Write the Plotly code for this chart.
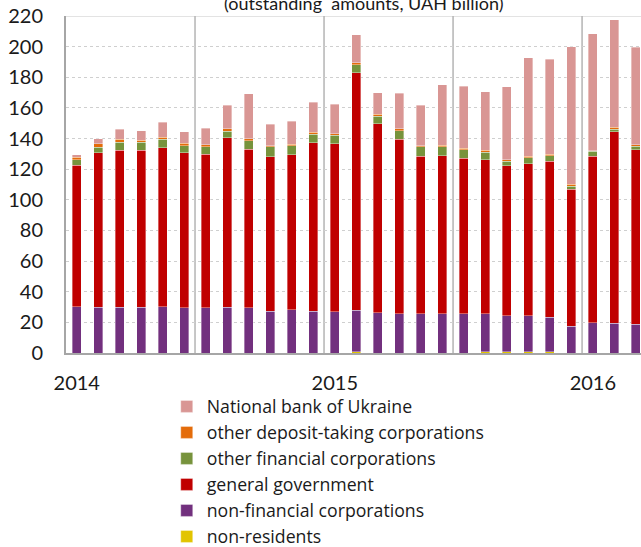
import plotly.graph_objects as go

months = [f"{y}-{m:02d}" for y in (2014, 2015, 2016) for m in range(1, 13)][:27]
tick_vals = ["2014-01", "2015-01", "2016-01"]
tick_text = ["2014", "2015", "2016"]

non_residents = [0, 0, 0, 0, 0, 0, 0, 0, 0, 0, 0, 0, 0, 0.7, 0, 0, 0, 0, 0, 0.7, 0.9, 0.9, 0.8, 0, 0, 0, 0]
non_financial = [30.3, 30.0, 30.0, 30.0, 30.3, 29.6, 29.6, 30.0, 29.4, 27.4, 28.3, 27.4, 27.0, 27.2,
                 26.4, 25.7, 25.7, 25.7, 25.5, 24.8, 23.5, 23.5, 22.7, 17.4, 19.6, 19.4, 18.7]
general_government = [92.4, 100.8, 102.5, 102.3, 103.8, 101.0, 100.3, 110.4, 103.6, 100.8, 101.0, 109.7,
                      109.5, 154.9, 123.1, 114.0, 102.9, 103.2, 101.8, 100.5, 97.7, 99.2, 101.8, 89.5,
                      109.0, 124.9, 114.1]
other_financial = [3.3, 3.5, 5.0, 5.2, 5.4, 4.8, 4.6, 4.5, 5.6, 6.3, 6.1, 5.7, 5.6, 5.5, 5.2, 5.5, 5.9,
                   5.6, 5.5, 5.2, 3.2, 3.9, 3.6, 2.1, 3.1, 1.9, 2.3]
other_deposit_taking = [1.8, 2.2, 2.0, 1.3, 1.5, 1.5, 1.3, 1.6, 1.4, 0.9, 0.8, 1.3, 0.9, 1.3, 1.1, 1.3,
                        0.9, 1.1, 1.0, 1.1, 0.9, 1.1, 1.0, 1.3, 0.4, 1.1, 0.9]
national_bank = [1.5, 3.5, 6.5, 6.4, 9.8, 7.6, 10.9, 15.2, 29.1, 13.9, 15.1, 19.6, 19.4, 18.0, 14.2, 23.0,
                 26.3, 39.6, 40.5, 38.3, 47.7, 64.0, 61.8, 89.5, 76.4, 70.1, 63.6]

series = [
    ("non-residents", non_residents, "#E2C400"),
    ("non-financial corporations", non_financial, "#72307E"),
    ("general government", general_government, "#C00000"),
    ("other financial corporations", other_financial, "#77933C"),
    ("other deposit-taking corporations", other_deposit_taking, "#E46C0A"),
    ("National bank of Ukraine", national_bank, "#D99694"),
]

FONT = "Lato"
W, H = 641, 547
L, T = 66.3, 16
PW = W - L
PH = 337

fig = go.Figure()
for name, vals, col in series:
    fig.add_trace(go.Bar(
        x=months, y=vals, name=name,
        marker=dict(color=col, line=dict(color="rgba(255,255,255,0.45)", width=0.8)),
    ))

# half-year separators (category boundaries)
sep_positions = [5.5, 11.5, 17.5, 23.5]
for p in sep_positions:
    fig.add_shape(type="line", xref="x", yref="y", x0=p, x1=p, y0=0, y1=220,
                  line=dict(color="#B4B4B4", width=1.5), layer="below")
fig.add_shape(type="line", xref="paper", yref="y", x0=0, x1=1, y0=220, y1=220,
              line=dict(color="#C8C8C8", width=1), layer="below")

fig.add_annotation(text="(outstanding\u00a0\u00a0amounts, UAH billion)", xref="paper", yref="paper",
                   x=(364 - L) / PW, y=1.0386, xanchor="center", yanchor="middle",
                   showarrow=False, font=dict(family=FONT, size=18, color="#1a1a1a"))

fig.update_layout(
    width=W, height=H,
    margin=dict(l=L, r=0, t=T, b=H - T - PH, autoexpand=False),
    barmode="stack", bargap=0.58,
    plot_bgcolor="white", paper_bgcolor="white",
    font=dict(family=FONT, size=20, color="#1a1a1a"),
    showlegend=True,
    legend=dict(orientation="v", traceorder="reversed", x=(167 - L) / PW, xanchor="left",
                y=-0.105, yanchor="top", font=dict(family="Open Sans", size=17.7, color="#1a1a1a"),
                bgcolor="rgba(0,0,0,0)", itemclick=False),
    xaxis=dict(type="category", categoryorder="array", categoryarray=months,
               range=[-0.5, 26.24], tickmode="array", tickvals=tick_vals, ticktext=tick_text,
               showgrid=False, ticks="", showline=True, linecolor="#A6A6A6", linewidth=2,
               ticklabelstandoff=11, tickfont=dict(size=20)),
    yaxis=dict(range=[0, 220], tickvals=list(range(0, 221, 20)), showgrid=True,
               gridcolor="#CFCFCF", griddash="dot", gridwidth=1, ticks="",
               showline=True, linecolor="#A6A6A6", linewidth=2, zeroline=False,
               ticklabelstandoff=17, tickfont=dict(size=20)),
)

fig.write_html("out.html", config={"displayModeBar": False},
               post_script="document.body.style.margin='0';")
